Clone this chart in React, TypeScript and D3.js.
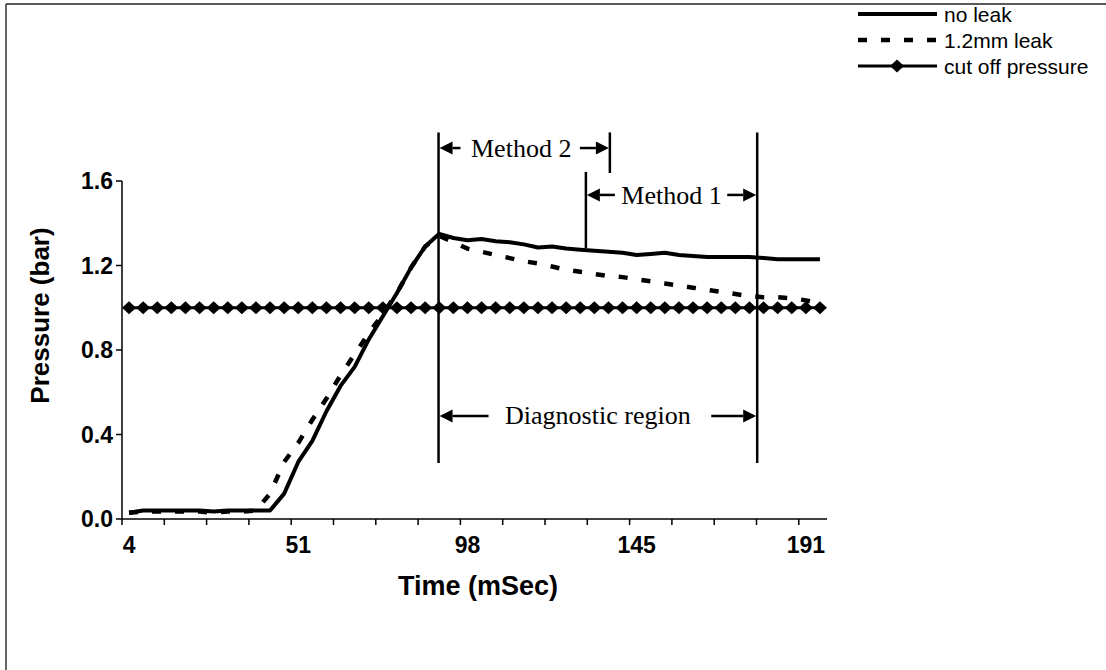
import * as d3 from 'd3';

// time axis categories (mSec)
const times = [
  4, 8, 12, 16, 20, 24, 27, 31, 35, 39, 43, 47,
  51, 55, 59, 63, 67, 70, 74, 78, 82, 86, 90, 94,
  98, 102, 106, 110, 114, 117, 121, 125, 129, 133, 137, 141,
  145, 149, 153, 157, 160, 164, 168, 172, 176, 180, 184, 188,
  191, 195,
];
const timeLabels = [4, 51, 98, 145, 191];

// pressure (bar)
const noLeak = [
  0.03, 0.04, 0.04, 0.04, 0.04, 0.04, 0.035, 0.04, 0.04, 0.04,
  0.04, 0.12, 0.27, 0.37, 0.51, 0.63, 0.72, 0.85, 0.96, 1.07,
  1.19, 1.29, 1.35, 1.33, 1.32, 1.325, 1.315, 1.31, 1.3, 1.285,
  1.29, 1.28, 1.275, 1.27, 1.265, 1.26, 1.25, 1.255, 1.26, 1.25,
  1.245, 1.24, 1.24, 1.24, 1.24, 1.235, 1.23, 1.23, 1.23, 1.23,
];
const leak12 = [
  0.03, 0.035, 0.035, 0.035, 0.035, 0.035, 0.03, 0.035, 0.035, 0.04,
  0.12, 0.27, 0.36, 0.47, 0.57, 0.68, 0.78, 0.88, 0.97, 1.07,
  1.19, 1.29, 1.34, 1.31, 1.28, 1.265, 1.25, 1.235, 1.22, 1.21,
  1.195, 1.18, 1.17, 1.16, 1.15, 1.145, 1.135, 1.125, 1.115, 1.105,
  1.095, 1.085, 1.075, 1.065, 1.055, 1.05, 1.05, 1.045, 1.035, 1.02,
];
const cutOff = times.map(() => 1.0);

const yTicks = [0, 0.4, 0.8, 1.2, 1.6];
const legendItems = ['no leak', '1.2mm leak', 'cut off pressure'];

const W = 1106;
const H = 670;
const plot = { left: 122, right: 827, top: 181, bottom: 519 };

const diamond = 'M0,-6.5L7,0L0,6.5L-7,0Z';

function Arrow({ x1, x2, y }: { x1: number; x2: number; y: number }) {
  // head at x1
  const dir = x2 > x1 ? 1 : -1;
  const hx = x1 + dir * 13;
  return (
    <g>
      <line x1={hx} x2={x2} y1={y} y2={y} stroke="#000" strokeWidth={2.5} />
      <path d={`M${x1},${y}L${hx},${y - 6.5}L${hx},${y + 6.5}Z`} fill="#000" />
    </g>
  );
}

export default function App() {
  const x = d3
    .scaleBand<number>()
    .domain(times)
    .range([plot.left, plot.right])
    .padding(0);
  const bw = x.bandwidth();
  const cx = (t: number) => (x(t) as number) + bw / 2;
  const xAt = (i: number) => plot.left + (i + 0.5) * bw;

  const y = d3.scaleLinear().domain([0, 1.6]).range([plot.bottom, plot.top]);

  const line = d3
    .line<number>()
    .x((_, i) => cx(times[i]))
    .y((d) => y(d));

  // annotation positions
  const diagL = xAt(21.95);
  const diagR = xAt(44.55);
  const m1L = xAt(32.4);
  const m2R = xAt(34.1);
  const topY = y(1.83);
  const botY = y(0.265);
  const m2Y = y(1.756);
  const m1Y = y(1.534);
  const dY = y(0.488);

  const tickIdx = d3.range(0, times.length + 1, 3);

  return (
    <svg width={W} height={H} style={{ display: 'block', position: 'absolute', left: 0, top: 0 }}>
      <rect x={0} y={0} width={W} height={H} fill="#fff" />
      {/* chart area border */}
      <line x1={6} x2={W} y1={4} y2={4} stroke="#222" strokeWidth={1.5} />
      <line x1={6} x2={6} y1={4} y2={H} stroke="#333" strokeWidth={1.5} />

      {/* axes */}
      <line x1={plot.left} x2={plot.left} y1={plot.top} y2={plot.bottom} stroke="#000" strokeWidth={1.5} />
      <line x1={plot.left} x2={plot.right} y1={plot.bottom} y2={plot.bottom} stroke="#000" strokeWidth={1.5} />
      {yTicks.map((t) => (
        <g key={t}>
          <line x1={plot.left - 6} x2={plot.left} y1={y(t)} y2={y(t)} stroke="#000" strokeWidth={1.5} />
          <text
            x={plot.left - 9}
            y={y(t)}
            dy="0.36em"
            textAnchor="end"
            fontFamily="Liberation Sans, Arial, sans-serif"
            fontWeight="bold"
            fontSize={23}
          >
            {t.toFixed(1)}
          </text>
        </g>
      ))}
      {tickIdx.map((i) => (
        <line
          key={i}
          x1={plot.left + i * bw}
          x2={plot.left + i * bw}
          y1={plot.bottom}
          y2={plot.bottom + 6}
          stroke="#000"
          strokeWidth={1.5}
        />
      ))}
      {timeLabels.map((t) => (
        <text
          key={t}
          x={cx(t)}
          y={553}
          textAnchor="middle"
          fontFamily="Liberation Sans, Arial, sans-serif"
          fontWeight="bold"
          fontSize={23}
        >
          {t}
        </text>
      ))}
      <text
        x={478}
        y={595}
        textAnchor="middle"
        fontFamily="Liberation Sans, Arial, sans-serif"
        fontWeight="bold"
        fontSize={27}
      >
        Time (mSec)
      </text>
      <text
        transform={`translate(49,${(228 + 403) / 2}) rotate(-90)`}
        textAnchor="middle"
        fontFamily="Liberation Sans, Arial, sans-serif"
        fontWeight="bold"
        fontSize={26}
      >
        Pressure (bar)
      </text>

      {/* series */}
      <path d={line(cutOff) ?? ''} fill="none" stroke="#000" strokeWidth={3} />
      {cutOff.map((v, i) => (
        <path key={i} d={diamond} transform={`translate(${cx(times[i])},${y(v)})`} fill="#000" />
      ))}
      <path d={line(leak12) ?? ''} fill="none" stroke="#000" strokeWidth={4.5} strokeDasharray="9 14" />
      <path d={line(noLeak) ?? ''} fill="none" stroke="#000" strokeWidth={4} strokeLinejoin="round" />

      {/* annotations */}
      <g fontFamily="Liberation Serif, Times New Roman, serif" fontSize={26}>
        <line x1={diagL} x2={diagL} y1={topY} y2={botY} stroke="#000" strokeWidth={2.5} />
        <line x1={diagR} x2={diagR} y1={topY} y2={botY} stroke="#000" strokeWidth={2.5} />
        <line x1={m2R} x2={m2R} y1={topY} y2={y(1.638)} stroke="#000" strokeWidth={2.5} />
        <line x1={m1L} x2={m1L} y1={y(1.643)} y2={y(1.283)} stroke="#000" strokeWidth={2.5} />

        <Arrow x1={diagL + 1} x2={diagL + 22} y={m2Y} />
        <text x={(diagL + m2R) / 2 - 3} y={m2Y} dy="0.33em" textAnchor="middle">Method 2</text>
        <Arrow x1={m2R - 1} x2={m2R - 30} y={m2Y} />

        <Arrow x1={m1L + 1} x2={m1L + 29} y={m1Y} />
        <text x={(m1L + diagR) / 2} y={m1Y} dy="0.33em" textAnchor="middle">Method 1</text>
        <Arrow x1={diagR - 1} x2={diagR - 30} y={m1Y} />

        <Arrow x1={diagL + 1} x2={diagL + 50} y={dY} />
        <text x={(diagL + diagR) / 2} y={dY} dy="0.33em" textAnchor="middle">Diagnostic region</text>
        <Arrow x1={diagR - 1} x2={diagR - 46} y={dY} />
      </g>

      {/* legend */}
      <g fontFamily="Liberation Sans, Arial, sans-serif" fontSize={21}>
        {legendItems.map((name, i) => {
          const ly = 14 + i * 26;
          return (
            <g key={name}>
              {i === 0 && <line x1={858} x2={937} y1={ly} y2={ly} stroke="#000" strokeWidth={4} />}
              {i === 1 && (
                <line x1={858} x2={937} y1={ly} y2={ly} stroke="#000" strokeWidth={4.5} strokeDasharray="9 14" />
              )}
              {i === 2 && (
                <g>
                  <line x1={858} x2={937} y1={ly} y2={ly} stroke="#000" strokeWidth={3} />
                  <path d={diamond} transform={`translate(897,${ly})`} fill="#000" />
                </g>
              )}
              <text x={944} y={ly} dy="0.36em">
                {name}
              </text>
            </g>
          );
        })}
      </g>
    </svg>
  );
}
